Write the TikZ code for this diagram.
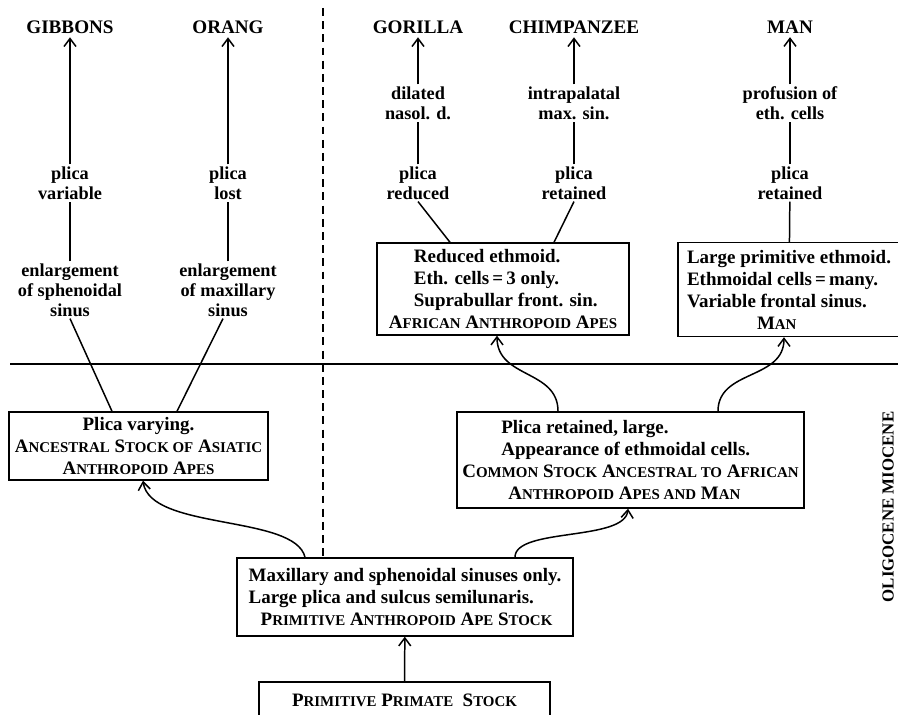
\documentclass[tikz,border=0pt]{standalone}
\usepackage{fontspec}
\setmainfont{Liberation Serif}
\usepackage{tikz}
\usetikzlibrary{arrows.meta}
\newcommand\smc[1]{{\fontsize{8.5}{10}\selectfont #1}}
\begin{document}
\begin{tikzpicture}[x=0.02cm,y=-0.02cm,
  every node/.style={font=\bfseries\fontsize{10.4}{11.4}\selectfont},
  title/.style={font=\bfseries\fontsize{10.9}{12}\selectfont,inner sep=2pt},
  note/.style={align=center,inner sep=1pt},
  stockbox/.style={draw,line width=0.8pt,inner sep=2pt,font=\bfseries\fontsize{10.8}{12.5}\selectfont},
  link/.style={line width=0.85pt},
  descent/.style={line width=0.85pt,-{Straight Barb[length=1.6mm,width=2.4mm]}}]
\useasboundingbox (0,0) rectangle (898,715);
% living forms
\node[title] (gibbons) at (70,27) {GIBBONS};
\node[title] (orang) at (228,27) {ORANG};
\node[title] (gorilla) at (418,27) {GORILLA};
\node[title] (chimp) at (574,27) {CHIMPANZEE};
\node[title] (man) at (790,27) {MAN};
% characters along the lines
\node[note] (gibVar) at (70,183) {plica\\variable};
\node[note] (gibEnl) at (70,290) {enlargement\\of sphenoidal\\sinus};
\node[note] (oraLost) at (228,183) {plica\\lost};
\node[note] (oraEnl) at (228,290) {enlargement\\of maxillary\\sinus};
\node[note] (gorDil) at (418,103) {dilated\\nasol. d.};
\node[note] (gorRed) at (418,183) {plica\\reduced};
\node[note] (chiIntra) at (574,103) {intrapalatal\\max. sin.};
\node[note] (chiRet) at (574,183) {plica\\retained};
\node[note] (manProf) at (790,103) {profusion of\\eth. cells};
\node[note] (manRet) at (790,183) {plica\\retained};
% stocks
\node[stockbox,minimum width=5.04cm,minimum height=1.84cm,align=left] (african) at (503,289)
  {\hspace*{0.5cm}Reduced ethmoid.\\\hspace*{0.5cm}Eth. cells\,=\,3 only.\\\hspace*{0.5cm}Suprabullar front. sin.\\A\smc{FRICAN} A\smc{NTHROPOID} A\smc{PES}};
\node[stockbox,minimum width=4.44cm,minimum height=1.88cm,align=left] (manbox) at (789,289.5)
  {Large primitive ethmoid.\\Ethmoidal cells\,=\,many.\\Variable frontal sinus.\\\hspace*{1.4cm}M\smc{AN}};
\node[stockbox,minimum width=5.18cm,minimum height=1.36cm,align=center] (asiatic) at (138.5,446)
  {Plica varying.\\A\smc{NCESTRAL} S\smc{TOCK OF} A\smc{SIATIC}\\A\smc{NTHROPOID} A\smc{PES}};
\node[stockbox,minimum width=6.94cm,minimum height=1.92cm,align=left] (common) at (630.5,460)
  {\hspace*{0.78cm}Plica retained, large.\\\hspace*{0.78cm}Appearance of ethmoidal cells.\\C\smc{OMMON} S\smc{TOCK} A\smc{NCESTRAL TO} A\smc{FRICAN}\\\hspace*{0.92cm}A\smc{NTHROPOID} A\smc{PES AND} M\smc{AN}};
\node[stockbox,minimum width=6.72cm,minimum height=1.56cm,align=left] (anthropoid) at (405,597)
  {Maxillary and sphenoidal sinuses only.\\Large plica and sulcus semilunaris.\\\hspace*{0.24cm}P\smc{RIMITIVE} A\smc{NTHROPOID} A\smc{PE} S\smc{TOCK}};
\node[stockbox,minimum width=5.82cm,minimum height=0.72cm] (primate) at (404.5,700)
  {P\smc{RIMITIVE} P\smc{RIMATE}\ \ S\smc{TOCK}};
\node[title,rotate=90,font=\bfseries\fontsize{9.6}{11}\selectfont] (epochs) at (888,507) {OLIGOCENE MIOCENE};
% epoch line and divide
\coordinate (epochW) at (10,364);
\coordinate (epochE) at (898,364);
\coordinate (dashtop) at (323,8);
\draw[link] (epochW) -- (epochE);
\draw[link,dash pattern=on 4.5pt off 3pt] (dashtop) -- (dashtop |- anthropoid.north);
% upper lines
\draw[descent] (gibVar) -- (gibbons);
\draw[link] (gibEnl) -- (gibVar);
\draw[descent] (oraLost) -- (orang);
\draw[link] (oraEnl) -- (oraLost);
\draw[descent] (gorDil) -- (gorilla);
\draw[link] (gorRed) -- (gorDil);
\draw[descent] (chiIntra) -- (chimp);
\draw[link] (chiRet) -- (chiIntra);
\draw[descent] (manProf) -- (man);
\draw[link] (manRet) -- (manProf);
\draw[link] (manRet) -- (manbox);
\draw[link] (gibEnl.south) -- ([xshift=-0.53cm]asiatic.north);
\draw[link] ([xshift=-0.1cm]oraEnl.south) -- ([xshift=0.77cm]asiatic.north);
\draw[link] (gorRed.south) -- ([xshift=-1.06cm]african.north);
\draw[link] (chiRet.south) -- ([xshift=1.02cm]african.north);
% lower lines
\draw[descent] (primate) -- (anthropoid);
\draw[descent] ([xshift=-2cm]anthropoid.north) .. controls +(-10,-43) and +(7,50) .. ([xshift=0.09cm]asiatic.south);
\draw[descent] ([xshift=2.2cm]anthropoid.north) .. controls +(0,-30) and +(-3,33) .. ([xshift=-0.05cm]common.south);
\draw[descent] ([xshift=-1.45cm]common.north) .. controls +(0,-42) and +(0,43) .. ([xshift=-0.12cm]african.south);
\draw[descent] ([xshift=1.75cm]common.north) .. controls +(0,-42) and +(0,43) .. ([xshift=-0.1cm]manbox.south);
\end{tikzpicture}
\end{document}
